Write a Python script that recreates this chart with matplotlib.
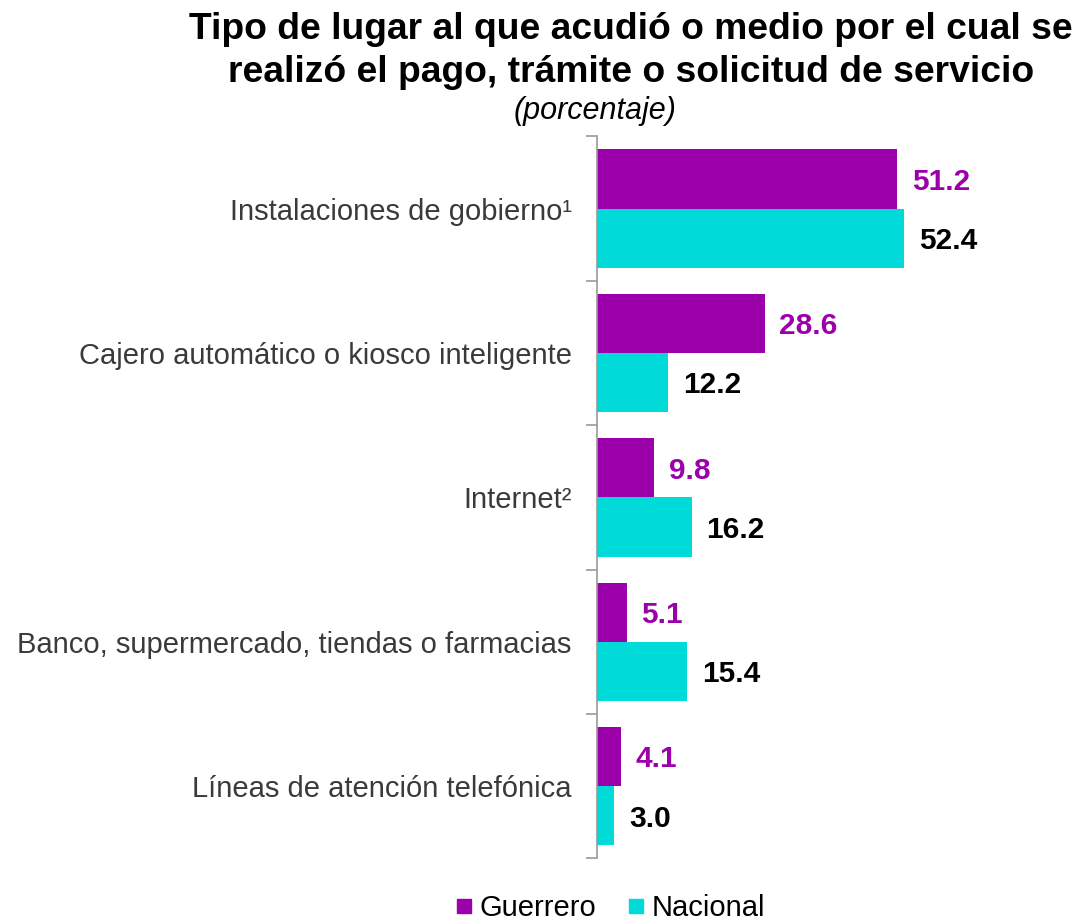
import numpy as np
import matplotlib.pyplot as plt
from matplotlib.lines import Line2D

plt.rcParams['font.family'] = ['Liberation Sans', 'DejaVu Sans']

categories = [
    "Instalaciones de gobierno¹",
    "Cajero automático o kiosco inteligente",
    "Internet²",
    "Banco, supermercado, tiendas o farmacias",
    "Líneas de atención telefónica",
]
guerrero = [51.2, 28.6, 9.8, 5.1, 4.1]
nacional = [52.4, 12.2, 16.2, 15.4, 3.0]

PURPLE = "#9C00AA"
CYAN = "#00DAD8"

fig = plt.figure(figsize=(10.79, 9.21), dpi=100)
ax = fig.add_axes([0.553, 0.068, 0.43, 0.784])

n = len(categories)
y = np.arange(n)
h = 0.41
ax.barh(y - h / 2, guerrero, height=h, color=PURPLE)
ax.barh(y + h / 2, nacional, height=h, color=CYAN)

# value labels sit a bit below the bar centre, as in the original
for yi, g, nv in zip(y, guerrero, nacional):
    ax.text(g + 2.5, yi - h / 2 + 0.02, f"{g:.1f}", va="center", ha="left",
            fontsize=21.5, fontweight="bold", color=PURPLE)
    ax.text(nv + 2.5, yi + h / 2 + 0.02, f"{nv:.1f}", va="center", ha="left",
            fontsize=21.5, fontweight="bold", color="black")

ax.set_ylim(n - 0.5, -0.5)
ax.set_xlim(0, 79)
ax.set_yticks(y)
ax.set_yticklabels(categories, fontsize=21, color="#3a3a3a")
ax.tick_params(axis="y", which="major", length=0, pad=18)
ax.set_yticks(np.arange(-0.5, n, 1.0), minor=True)
ax.tick_params(axis="y", which="minor", length=8, color="#999999", width=1.2)
ax.set_xticks([])
for s in ["top", "right", "bottom"]:
    ax.spines[s].set_visible(False)
ax.spines["left"].set_color("#999999")
ax.spines["left"].set_linewidth(1.2)

fig.text(0.585, 0.945, "Tipo de lugar al que acudió o medio por el cual se\n"
         "realizó el pago, trámite o solicitud de servicio",
         ha="center", va="center", fontsize=26.8, fontweight="bold",
         linespacing=1.3)
fig.text(0.551, 0.879, "(porcentaje)", ha="center", va="center",
         fontsize=22, style="italic")

handles = [
    Line2D([], [], marker="s", linestyle="", color=PURPLE, markersize=10.5, label="Guerrero"),
    Line2D([], [], marker="s", linestyle="", color=CYAN, markersize=10.5, label="Nacional"),
]
fig.legend(handles=handles, loc="center", bbox_to_anchor=(0.565, 0.014),
           ncol=2, frameon=False, fontsize=21, handletextpad=0.2,
           handlelength=0.7, columnspacing=1.0)

fig.savefig("out.png", dpi=100)
